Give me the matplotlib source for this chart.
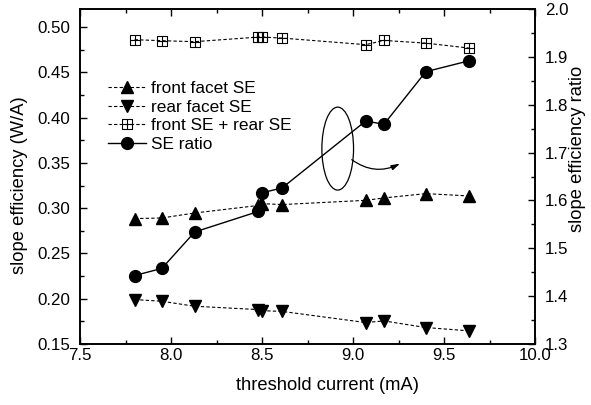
import matplotlib
matplotlib.use("Agg")
import matplotlib.pyplot as plt
from matplotlib.path import Path
from matplotlib.patches import Ellipse
from matplotlib.ticker import MultipleLocator, FormatStrFormatter

plt.rcParams['font.family'] = ['Liberation Sans', 'DejaVu Sans']

threshold = [7.80, 7.95, 8.13, 8.48, 8.50, 8.61, 9.07, 9.17, 9.40, 9.64]
front_se = [0.2885, 0.2892, 0.2947, 0.303, 0.305, 0.304, 0.3087, 0.3113, 0.3161, 0.3135]
rear_se = [0.1991, 0.1972, 0.1917, 0.188, 0.1868, 0.186, 0.1737, 0.1755, 0.1682, 0.1645]
total_se = [0.4861, 0.485, 0.4839, 0.489, 0.489, 0.4879, 0.4806, 0.4853, 0.4823, 0.4768]
se_ratio = [1.443, 1.458, 1.534, 1.577, 1.616, 1.626, 1.766, 1.759, 1.869, 1.892]

labels = ["front facet SE", "rear facet SE", "front SE + rear SE", "SE ratio"]

# square-with-cross marker
verts = [(-1, -1), (1, -1), (1, 1), (-1, 1), (-1, -1),
         (0, -1), (0, 1), (-1, 0), (1, 0)]
codes = [Path.MOVETO, Path.LINETO, Path.LINETO, Path.LINETO, Path.CLOSEPOLY,
         Path.MOVETO, Path.LINETO, Path.MOVETO, Path.LINETO]
sq_cross = Path(verts, codes)

fig = plt.figure(figsize=(5.91, 4.05), dpi=100)
ax = fig.add_axes([80/591, 1-344/405, 455/591, 335/405])
ax2 = ax.twinx()

dash = (0, (3, 2))
l1, = ax.plot(threshold, front_se, linestyle=dash, lw=0.8, color='black',
              marker='^', ms=9, mfc='black', mec='black')
l2, = ax.plot(threshold, rear_se, linestyle=dash, lw=0.8, color='black',
              marker='v', ms=9, mfc='black', mec='black')
l3, = ax.plot(threshold, total_se, linestyle=dash, lw=0.8, color='black',
              marker=sq_cross, ms=7.3, mfc='none', mec='black', mew=0.8)
l4, = ax2.plot(threshold, se_ratio, linestyle='-', lw=1.0, color='black',
               marker='o', ms=8.5, mfc='black', mec='black')

ax.set_xlim(7.5, 10.0)
ax.set_ylim(0.15, 0.52)
ax2.set_ylim(1.3, 2.0)

ax.xaxis.set_major_locator(MultipleLocator(0.5))
ax.xaxis.set_minor_locator(MultipleLocator(0.25))
ax.yaxis.set_major_locator(MultipleLocator(0.05))
ax.yaxis.set_minor_locator(MultipleLocator(0.025))
ax2.yaxis.set_major_locator(MultipleLocator(0.1))
ax2.yaxis.set_minor_locator(MultipleLocator(0.05))
ax.xaxis.set_major_formatter(FormatStrFormatter('%.1f'))
ax.yaxis.set_major_formatter(FormatStrFormatter('%.2f'))
ax2.yaxis.set_major_formatter(FormatStrFormatter('%.1f'))

ax.tick_params(axis='x', which='both', direction='in', top=True, labelsize=12.2, pad=3)
ax.tick_params(axis='y', which='both', direction='in', right=False, labelsize=12.2, pad=7)
ax.tick_params(which='major', length=5, width=1)
ax.tick_params(which='minor', length=3, width=1)
ax2.tick_params(axis='y', which='both', direction='in', labelsize=12.2, pad=7)
ax2.tick_params(which='major', length=5, width=1)
ax2.tick_params(which='minor', length=3, width=1)
for a in (ax, ax2):
    for s in a.spines.values():
        s.set_linewidth(1.2)

fig.text(328/591, 1-385/405, "threshold current (mA)", fontsize=13.2,
         ha='center', va='center')
fig.text(20/591, 1-185/405, "slope efficiency (W/A)", fontsize=13.2,
         ha='center', va='center', rotation=90)
fig.text(577/591, 1-149/405, "slope efficiency ratio", fontsize=13.2,
         ha='center', va='center', rotation=90)

leg = ax.legend([l1, l2, l3, l4], labels, loc='upper left',
                bbox_to_anchor=(0.046, 0.805), frameon=False, fontsize=12.4,
                handlelength=2.2, handletextpad=0.3, labelspacing=0.2,
                borderaxespad=0)

ell = Ellipse((8.916, 0.3658), 0.174, 0.0916, fill=False, lw=0.9, ec='black')
ax.add_patch(ell)
ax.annotate("", xy=(9.258, 0.3492), xytext=(8.993, 0.3536),
            arrowprops=dict(arrowstyle='-|>,head_length=0.5,head_width=0.15',
                            connectionstyle='arc3,rad=0.3', lw=0.9,
                            color='black', shrinkA=0, shrinkB=0))

fig.savefig("out.png", dpi=100)
